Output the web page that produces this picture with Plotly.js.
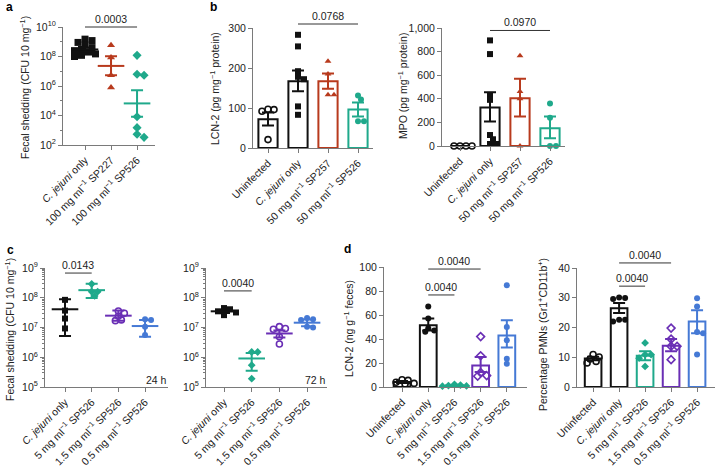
<!DOCTYPE html>
<html>
<head>
<meta charset="utf-8">
<script src="https://cdn.plot.ly/plotly-3.0.1.min.js"></script>
<style>html,body{margin:0;padding:0;background:#fff;}#chart{width:716px;height:467px;}</style>
</head>
<body>
<div id="chart"></div>
<script>
// ---------------- DATA ----------------
const MGML = ' mg ml<sup>\u22121</sup> ';
// Panel a
const aCats = ['<i>C. jejuni</i> only', '100' + MGML + 'SP227', '100' + MGML + 'SP526'];
const aJejuni = [1.5e9, 1.2e9, 9e8, 6e8, 4e8, 3e8, 2.5e8, 2e8, 1.5e8, 1.2e8, 1e8];
const aSP227 = [5.7e8, 8.5e7, 5.4e6, 8e5];
const aSP526 = [1.2e8, 5.4e6, 6.3e6, 8.3e3, 1.5e3, 5.4e2, 3.3e2];
const aMean = [3e8, 2.3e7, 6.6e4];
const aHi = [4e8, 1.05e8, 5.2e5];
const aLo = [2.2e8, 5.4e6, 8.3e3];
// Panel b (LCN-2 and MPO)
const bCats = ['Uninfected', '<i>C. jejuni</i> only', '50' + MGML + 'SP257', '50' + MGML + 'SP526'];
const lcnUninf = [97, 92, 96, 21];
const lcnJejuni = [283, 254, 192, 178, 172, 104, 83];
const lcnSP257 = [217, 185, 133, 133];
const lcnSP526 = [121, 131, 67, 67];
const lcnMean = [72, 167, 167, 96];
const lcnHi = [89, 194, 186, 114];
const lcnLo = [56, 142, 148, 79];
const mpoUninf = [0, 0, 0, 0];
const mpoJejuni = [895, 779, 433, 391, 93, 57, 17, 17];
const mpoSP257 = [765, 462, 400, 0];
const mpoSP526 = [360, 240, 0, 0];
const mpoMean = [0, 326, 405, 150];
const mpoHi = [0, 456, 569, 249];
const mpoLo = [0, 207, 249, 65];
// Panel c (24 h and 72 h)
const cCats = ['<i>C. jejuni</i> only', '5' + MGML + 'SP526', '1.5' + MGML + 'SP526', '0.5' + MGML + 'SP526'];
const c24Jejuni = [8.5e7, 3.7e7, 2.0e7, 9.3e6];
const c24SP5 = [2.9e8, 1.6e8, 1.6e8, 1.15e8];
const c24SP15 = [3.6e7, 3.0e7, 2.4e7, 1.8e7, 1.7e7];
const c24SP05 = [1.8e7, 1.9e7, 1.07e7, 5.6e6];
const c24Mean = [4.1e7, 1.8e8, 2.5e7, 1.12e7];
const c24Hi = [8.9e7, 2.95e8, 3.7e7, 1.8e7];
const c24Lo = [5.2e6, 9.8e7, 1.7e7, 4.9e6];
const c72Jejuni = [4.5e7, 4.1e7, 3.5e7, 3.2e7, 2.6e7];
const c72SP5 = [1.5e6, 1.5e6, 5.4e5, 1.9e5];
const c72SP15 = [9.3e6, 1.07e7, 8.7e6, 4.9e6, 2.8e6];
const c72SP05 = [1.8e7, 2.1e7, 1.9e7, 1.0e7, 1.07e7];
const c72Mean = [3.5e7, 9.1e5, 6.3e6, 1.45e7];
const c72Hi = [3.9e7, 1.4e6, 8.0e6, 1.85e7];
const c72Lo = [3.1e7, 3.5e5, 4.6e6, 1.1e7];
// Panel d (LCN-2 feces and PMNs)
const dCats = ['Uninfected', '<i>C. jejuni</i> only', '5' + MGML + 'SP526', '1.5' + MGML + 'SP526', '0.5' + MGML + 'SP526'];
const dlUninf = [6, 5.5, 4, 3, 2.5];
const dlJejuni = [67, 57, 49, 47, 46];
const dlSP5 = [2.2, 1.6, 1.2, 0.9, 0.7];
const dlSP15 = [42, 26, 12, 9.5, 9];
const dlSP05 = [84.7, 50, 38.9, 23.6, 19.4];
const dlMean = [4.2, 51.4, 1.3, 18, 43];
const dlHi = [5, 57, 1.7, 25, 55.6];
const dlLo = [3.4, 47, 0.9, 12.5, 33];
const dpUninf = [10.9, 10.1, 9.4, 8.6, 8.1];
const dpJejuni = [29.9, 30.1, 29.6, 22.6, 22, 22.6];
const dpSP5 = [14.8, 10.9, 10.9, 9.7, 6.9];
const dpSP15 = [19.8, 16.1, 13.7, 13.7, 9.2];
const dpSP05 = [29.8, 27.1, 18.5, 18.1, 10.9];
const dpMean = [9.6, 26.5, 10.5, 13.9, 22];
const dpHi = [10.2, 28.2, 12, 16.1, 25.8];
const dpLo = [9.0, 24.9, 9, 12, 18.1];
// Significance labels
const pA = ['0.0003'];
const pB = ['0.0768', '0.0970'];
const pC = ['0.0143', '0.0040'];
const pD = ['0.0040', '0.0040', '0.0040', '0.0040'];

// ---------------- STYLE / LAYOUT ----------------
const W = 716, H = 467;
const FONT = 'Liberation Sans, Arial, Helvetica, sans-serif';
const FS = 10.5;
const TXT = '#222';
const AXC = '#7a7a7a';
const BLACK = '#111111', RED = '#b83a1d', TEAL = '#1fa98b', PURPLE = '#6a2fb5', BLUE = '#4579d5';

function G(vals, color, symbol, size) { return {vals, color, symbol, size: size || 6}; }

const panels = [
  {s: '', ax: [63, 155], ay: [27, 145], xr: [-0.846, 2.69], yr: [2, 10], log: true, kind: 'dot', cats: aCats,
   groups: [G(aJejuni, BLACK, 'square', 7), G(aSP227, RED, 'triangle-up', 7), G(aSP526, TEAL, 'diamond', 7)],
   mean: aMean, hi: aHi, lo: aLo,
   yt: [1e2, 1e4, 1e6, 1e8, 1e10], ytt: ['10<sup>2</sup>', '10<sup>4</sup>', '10<sup>6</sup>', '10<sup>8</sup>', '10<sup>10</sup>'],
   minor: 1,
   ytitle: 'Fecal shedding (CFU 10 mg<sup>\u22121</sup>)', tx: 25, ty: 88,
   br: [{a: 0, b: 2, v: 1e10, t: pA[0]}]},
  {s: '2', ax: [253, 373], ay: [28, 148], xr: [-0.5, 3.5], yr: [0, 300], log: false, kind: 'bar', cats: bCats,
   groups: [G(lcnUninf, BLACK, 'circle-open', 6), G(lcnJejuni, BLACK, 'square', 6), G(lcnSP257, RED, 'triangle-up', 6), G(lcnSP526, TEAL, 'circle', 6)],
   mean: lcnMean, hi: lcnHi, lo: lcnLo,
   yt: [0, 100, 200, 300], ytt: ['0', '100', '200', '300'],
   ytitle: 'LCN-2 (pg mg<sup>\u22121</sup> protein)', tx: 214, ty: 89,
   br: [{a: 1, b: 3, v: 310, t: pB[0]}]},
  {s: '3', ax: [442, 565], ay: [28, 146], xr: [-0.6, 3.5], yr: [0, 1000], log: false, kind: 'bar', cats: bCats,
   groups: [G(mpoUninf, BLACK, 'circle-open', 6), G(mpoJejuni, BLACK, 'square', 6), G(mpoSP257, RED, 'triangle-up', 6), G(mpoSP526, TEAL, 'circle', 6)],
   mean: mpoMean, hi: mpoHi, lo: mpoLo,
   yt: [0, 200, 400, 600, 800, 1000], ytt: ['0', '200', '400', '600', '800', '1,000'],
   ytitle: 'MPO (pg mg<sup>\u22121</sup> protein)', tx: 402, ty: 86,
   br: [{a: 1, b: 3, v: 979, t: pB[1]}]},
  {s: '4', ax: [45, 168], ay: [268, 387], xr: [-0.75, 3.86], yr: [5, 9], log: true, kind: 'dot', cats: cCats,
   groups: [G(c24Jejuni, BLACK, 'square', 6), G(c24SP5, TEAL, 'diamond', 6), G(c24SP15, PURPLE, 'circle-open', 6), G(c24SP05, BLUE, 'circle', 6)],
   mean: c24Mean, hi: c24Hi, lo: c24Lo,
   yt: [1e5, 1e6, 1e7, 1e8, 1e9], ytt: ['10<sup>5</sup>', '10<sup>6</sup>', '10<sup>7</sup>', '10<sup>8</sup>', '10<sup>9</sup>'],
   minor: 'D1',
   ytitle: 'Fecal shedding (CFU 10 mg<sup>\u22121</sup>)', tx: 9, ty: 330,
   br: [{a: 0, b: 1, v: Math.pow(10, 8.83), t: pC[0]}],
   note: {t: '24 h', x: 156, y: 380}},
  {s: '5', ax: [206, 327], ay: [268, 387], xr: [-0.65, 3.72], yr: [5, 9], log: true, kind: 'dot', cats: cCats,
   groups: [G(c72Jejuni, BLACK, 'square', 6), G(c72SP5, TEAL, 'diamond', 6), G(c72SP15, PURPLE, 'circle-open', 6), G(c72SP05, BLUE, 'circle', 6)],
   mean: c72Mean, hi: c72Hi, lo: c72Lo,
   yt: [1e5, 1e6, 1e7, 1e8, 1e9], ytt: ['10<sup>5</sup>', '10<sup>6</sup>', '10<sup>7</sup>', '10<sup>8</sup>', '10<sup>9</sup>'],
   minor: 'D1',
   br: [{a: 0, b: 1, v: Math.pow(10, 8.23), t: pC[1]}],
   note: {t: '72 h', x: 315, y: 380}},
  {s: '6', ax: [384, 527], ay: [267, 387], xr: [-0.69, 4.77], yr: [0, 100], log: false, kind: 'bar', cats: dCats,
   groups: [G(dlUninf, BLACK, 'circle-open', 6), G(dlJejuni, BLACK, 'circle', 6), G(dlSP5, TEAL, 'diamond', 6), G(dlSP15, PURPLE, 'diamond-open', 6), G(dlSP05, BLUE, 'circle', 6)],
   mean: dlMean, hi: dlHi, lo: dlLo,
   yt: [0, 20, 40, 60, 80, 100], ytt: ['0', '20', '40', '60', '80', '100'],
   ytitle: 'LCN-2 (ng g<sup>\u22121</sup> feces)', tx: 348, ty: 329,
   br: [{a: 1, b: 3, v: 98.3, t: pD[0]}, {a: 1, b: 2, v: 76.7, t: pD[1]}]},
  {s: '7', ax: [577, 715], ay: [268, 387], xr: [-0.62, 4.69], yr: [0, 40], log: false, kind: 'bar', cats: dCats,
   groups: [G(dpUninf, BLACK, 'circle-open', 6), G(dpJejuni, BLACK, 'circle', 6), G(dpSP5, TEAL, 'diamond', 6), G(dpSP15, PURPLE, 'diamond-open', 6), G(dpSP05, BLUE, 'circle', 6)],
   mean: dpMean, hi: dpHi, lo: dpLo,
   yt: [0, 10, 20, 30, 40], ytt: ['0', '10', '20', '30', '40'],
   ytitle: 'Percentage PMNs (Gr1<sup>+</sup>CD11b<sup>+</sup>)', tx: 542, ty: 335,
   br: [{a: 1, b: 3, v: 41.7, t: pD[2]}, {a: 1, b: 2, v: 33.9, t: pD[3]}]}
];

const panelLetters = [{t: 'a', x: 4, y: 7}, {t: 'b', x: 208, y: 7}, {t: 'c', x: 5, y: 250}, {t: 'd', x: 342, y: 249}];

// ---------------- BUILD ----------------
function frac(p, v) { // value -> fraction of y domain
  const t = p.log ? Math.log10(v) : v;
  return (t - p.yr[0]) / (p.yr[1] - p.yr[0]);
}
function swarm(p, vals, size) {
  const hpx = p.ay[1] - p.ay[0];
  const ppu = (p.ax[1] - p.ax[0]) / (p.xr[1] - p.xr[0]);
  const items = vals.map((v, i) => ({i, py: p.ay[1] - frac(p, v) * hpx}));
  items.sort((a, b) => a.py - b.py);
  const placed = [], off = new Array(vals.length).fill(0);
  const step = size * 0.5;
  for (const it of items) {
    let chosen = 0;
    for (let k = 0; k < 24; k++) {
      const cand = k === 0 ? 0 : (k % 2 ? 1 : -1) * Math.ceil(k / 2) * step;
      if (placed.every(q => Math.hypot(q.x - cand, q.y - it.py) >= size * 0.78)) { chosen = cand; break; }
    }
    placed.push({x: chosen, y: it.py});
    off[it.i] = chosen / ppu;
  }
  return off;
}

const traces = [], shapes = [], annotations = [];
const layout = {
  width: W, height: H, margin: {l: 0, r: 0, t: 0, b: 0},
  paper_bgcolor: '#fff', plot_bgcolor: 'rgba(0,0,0,0)',
  showlegend: false, hovermode: false,
  font: {family: FONT, size: FS, color: TXT}
};

panels.forEach(p => {
  const xa = 'x' + p.s, ya = 'y' + p.s;
  const idx = p.cats.map((c, i) => i);
  layout['xaxis' + p.s] = {
    domain: [p.ax[0] / W, p.ax[1] / W], anchor: ya, range: p.xr,
    tickmode: 'array', tickvals: idx, ticktext: p.cats, tickangle: -45,
    ticks: 'outside', ticklen: 4, tickwidth: 1, tickcolor: AXC,
    showline: true, linecolor: AXC, linewidth: 1, showgrid: false, zeroline: false,
    tickfont: {family: FONT, size: FS, color: TXT}, fixedrange: true
  };
  const yax = {
    domain: [1 - p.ay[1] / H, 1 - p.ay[0] / H], anchor: xa,
    type: p.log ? 'log' : 'linear', range: p.yr,
    tickmode: 'array', tickvals: p.yt, ticktext: p.ytt,
    ticks: 'outside', ticklen: 4, tickwidth: 1, tickcolor: AXC,
    showline: true, linecolor: AXC, linewidth: 1, showgrid: false, zeroline: false,
    tickfont: {family: FONT, size: FS, color: TXT}, fixedrange: true
  };
  if (p.minor) yax.minor = {ticks: 'outside', ticklen: 2, tickcolor: AXC, dtick: p.minor, showgrid: false};
  layout['yaxis' + p.s] = yax;

  if (p.kind === 'bar') {
    traces.push({
      type: 'bar', x: idx, y: p.mean, xaxis: xa, yaxis: ya, width: 0.64,
      marker: {color: 'rgba(255,255,255,0)', line: {color: p.groups.map(g => g.color), width: 2}}
    });
  }
  p.groups.forEach((g, gi) => {
    const off = swarm(p, g.vals, g.size);
    const open = g.symbol.indexOf('open') >= 0;
    traces.push({
      type: 'scatter', mode: 'markers', xaxis: xa, yaxis: ya, cliponaxis: false,
      x: g.vals.map((v, i) => gi + off[i]), y: g.vals,
      marker: {symbol: g.symbol, size: g.size, color: g.color,
               line: {color: g.color, width: open ? 1.6 : 0}}
    });
  });
  p.groups.forEach((g, gi) => {
    if (p.hi[gi] === p.lo[gi]) return;
    traces.push({
      type: 'scatter', mode: 'markers', xaxis: xa, yaxis: ya, cliponaxis: false,
      x: [gi], y: [p.mean[gi]],
      marker: p.kind === 'dot'
        ? {symbol: 'line-ew', size: 19, color: g.color, line: {color: g.color, width: 2}}
        : {size: 1, opacity: 0},
      error_y: {type: 'data', symmetric: false, array: [p.hi[gi] - p.mean[gi]], arrayminus: [p.mean[gi] - p.lo[gi]],
                color: g.color, thickness: 2, width: 6}
    });
  });
  p.br.forEach(b => {
    const f = frac(p, b.v);
    shapes.push({type: 'line', xref: xa, yref: ya + ' domain', x0: b.a, x1: b.b, y0: f, y1: f,
                 line: {color: '#333', width: 1}});
    annotations.push({xref: xa, yref: ya + ' domain', x: (b.a + b.b) / 2, y: f, yanchor: 'bottom', xanchor: 'center',
                      text: b.t, showarrow: false, font: {family: FONT, size: FS, color: TXT}});
  });
  if (p.ytitle) {
    annotations.push({xref: 'paper', yref: 'paper', x: p.tx / W, y: 1 - p.ty / H, xanchor: 'center', yanchor: 'middle',
                      text: p.ytitle, textangle: -90, showarrow: false, font: {family: FONT, size: FS, color: TXT}});
  }
  if (p.note) {
    annotations.push({xref: 'paper', yref: 'paper', x: p.note.x / W, y: 1 - p.note.y / H, xanchor: 'center', yanchor: 'middle',
                      text: p.note.t, showarrow: false, font: {family: FONT, size: FS, color: TXT}});
  }
});
panelLetters.forEach(l => {
  annotations.push({xref: 'paper', yref: 'paper', x: l.x / W, y: 1 - l.y / H, xanchor: 'left', yanchor: 'middle',
                    text: '<b>' + l.t + '</b>', showarrow: false, font: {family: FONT, size: 12, color: '#000'}});
});
layout.shapes = shapes;
layout.annotations = annotations;

Plotly.newPlot('chart', traces, layout, {staticPlot: true, displayModeBar: false});
</script>
</body>
</html>
